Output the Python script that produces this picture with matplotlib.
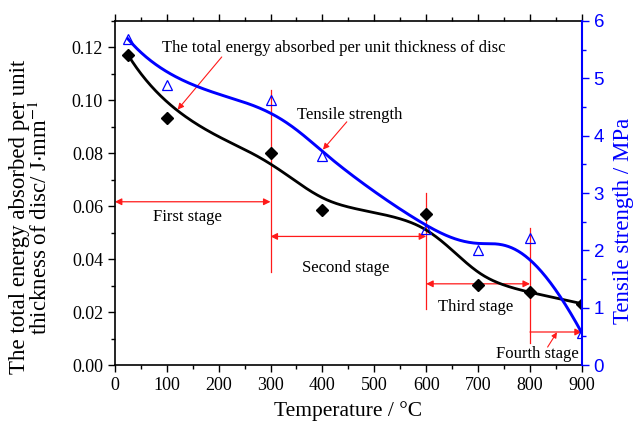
import numpy as np
import matplotlib
matplotlib.use('Agg')
import matplotlib.pyplot as plt

# Data
temperature = [25, 100, 300, 400, 600, 700, 800, 900]
energy = [0.1173, 0.0934, 0.0800, 0.0584, 0.0570, 0.0303, 0.0276, 0.0232]
strength = [5.69, 4.89, 4.62, 3.65, 2.38, 2.00, 2.22, 0.56]

stage_edges = [0, 300, 600, 800, 900]
stage_names = ['First stage', 'Second stage', 'Third stage', 'Fourth stage']

serif = ['Liberation Serif', 'DejaVu Serif']
sans = ['Liberation Sans', 'DejaVu Sans']
plt.rcParams['font.family'] = serif
plt.rcParams['mathtext.fontset'] = 'stix'


# Clamped cubic B-spline using the data points as control points
def bspline(cx, cy, n=400, k=3):
    cx = np.asarray(cx, float)
    cy = np.asarray(cy, float)
    m = len(cx)
    knots = np.concatenate([np.zeros(k), np.arange(m - k + 1), np.full(k, m - k)]).astype(float)
    t = np.linspace(0, m - k, n)
    t[-1] -= 1e-9

    def basis(i, p):
        if p == 0:
            return ((knots[i] <= t) & (t < knots[i + 1])).astype(float)
        out = np.zeros_like(t)
        d1 = knots[i + p] - knots[i]
        d2 = knots[i + p + 1] - knots[i + 1]
        if d1 > 0:
            out += (t - knots[i]) / d1 * basis(i, p - 1)
        if d2 > 0:
            out += (knots[i + p + 1] - t) / d2 * basis(i + 1, p - 1)
        return out

    B = np.array([basis(i, k) for i in range(m)])
    return B.T @ cx, B.T @ cy


fig = plt.figure(figsize=(6.38, 4.28), dpi=100)
ax = fig.add_axes([0.180, 0.147, 0.732, 0.804])
ax2 = ax.twinx()

ex, ey = bspline(temperature, energy)
sx, sy = bspline(temperature, strength)

ax.plot(ex, ey, color='black', lw=2.0, zorder=3)
ax.plot(temperature, energy, ls='none', marker='D', ms=6.5, color='black', zorder=4)
ax2.plot(sx, sy, color='blue', lw=2.1, zorder=3)
ax2.plot(temperature, strength, ls='none', marker='^', ms=7.5, mfc='none', mec='blue', mew=0.9, zorder=4)

ax.set_xlim(0, 900)
ax.set_ylim(0, 0.13)
ax2.set_ylim(0, 6)
ax.set_xticks(np.arange(0, 901, 100))
ax.set_xticks(np.arange(0, 901, 50), minor=True)
ax.set_yticks(np.arange(0, 0.121, 0.02))
ax.set_yticks(np.arange(0, 0.131, 0.01), minor=True)
ax.set_yticklabels(['%.2f' % v for v in np.arange(0, 0.121, 0.02)])
ax2.set_yticks(np.arange(0, 7, 1))
ax2.set_yticks(np.arange(0, 6.1, 0.5), minor=True)

ax.tick_params(which='both', direction='out', top=True, labelsize=13, width=1.0)
ax.tick_params(which='major', length=5)
ax.tick_params(which='minor', length=3)
ax2.tick_params(which='both', direction='out', colors='blue', width=1.0, labelsize=13.5)
ax2.tick_params(which='major', length=5)
ax2.tick_params(which='minor', length=3)
for lab in ax2.get_yticklabels():
    lab.set_family(sans)

for sp in ['left', 'bottom', 'top']:
    ax.spines[sp].set_linewidth(1.2)
ax2.spines['right'].set_color('blue')
ax2.spines['right'].set_linewidth(1.5)
ax.spines['right'].set_visible(False)
for sp in ['left', 'bottom', 'top']:
    ax2.spines[sp].set_visible(False)

ax.set_xlabel('Temperature / °C', fontsize=15.5, labelpad=5)
ax.set_ylabel('The total energy absorbed per unit\nthickness of disc/ J$\\cdot$mm$^{-1}$',
              fontsize=16.5, linespacing=0.95)
ax.yaxis.set_label_coords(-0.135, 0.43)
ax2.set_ylabel('Tensile strength / MPa', fontsize=16.5, color='blue')
ax2.yaxis.set_label_coords(1.066, 0.42)

# Stage markers
red = '#ff1a1a'
vlines = [(300, 0.1038, 0.035), (600, 0.0651, 0.0213), (800, 0.0517, 0.0085)]
for x, y1, y2 in vlines:
    ax.plot([x, x], [y2, y1], color=red, lw=0.9, zorder=2)

arrow_y = [0.0617, 0.0486, 0.0307, 0.0125]
styles = ['<|-|>', '<|-|>', '<|-|>', '-|>']
for i in range(4):
    ax.annotate('', xy=(stage_edges[i + 1], arrow_y[i]), xytext=(stage_edges[i], arrow_y[i]),
                arrowprops=dict(arrowstyle=styles[i], color=red, lw=0.9,
                                mutation_scale=10, shrinkA=0, shrinkB=0), zorder=2)

text_pos = [(73, 0.0561), (360, 0.0366), (622, 0.0219), (734, 0.0043)]
for (tx, ty), name in zip(text_pos, stage_names):
    ax.text(tx, ty, name, fontsize=12, ha='left', va='center')

ax.text(90, 0.1198, 'The total energy absorbed per unit thickness of disc', fontsize=12,
        ha='left', va='center')
ax.text(352, 0.0946, 'Tensile strength', fontsize=12, ha='left', va='center')

ax.annotate('', xy=(121, 0.0965), xytext=(206, 0.1164),
            arrowprops=dict(arrowstyle='-|>', color=red, lw=0.8, mutation_scale=9,
                            shrinkA=0, shrinkB=0))
ax.annotate('', xy=(401, 0.0814), xytext=(447, 0.0919),
            arrowprops=dict(arrowstyle='-|>', color=red, lw=0.8, mutation_scale=9,
                            shrinkA=0, shrinkB=0))
ax.annotate('', xy=(852, 0.0124), xytext=(834, 0.0068),
            arrowprops=dict(arrowstyle='-|>', color=red, lw=0.8, mutation_scale=8,
                            shrinkA=0, shrinkB=0))

fig.savefig('out.png', dpi=100)
